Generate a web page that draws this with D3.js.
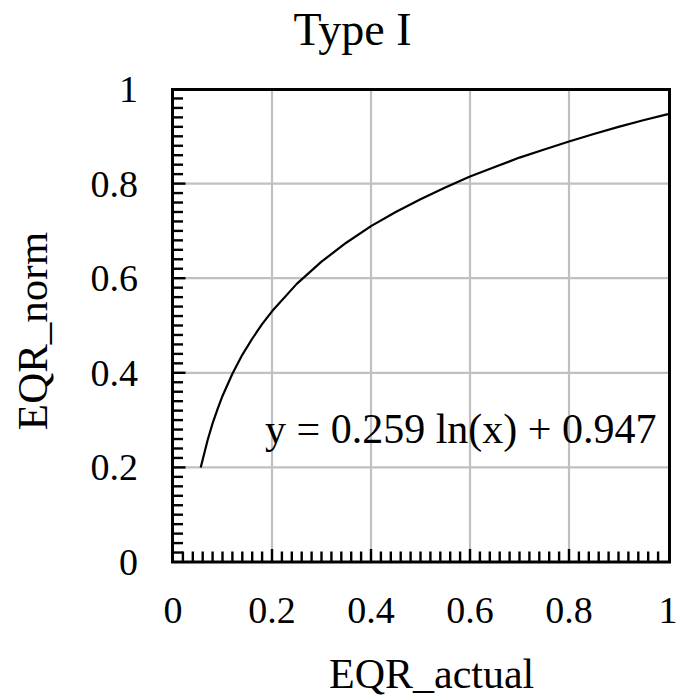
<!DOCTYPE html>
<html>
<head>
<meta charset="utf-8">
<script src="https://cdn.jsdelivr.net/npm/d3@7"></script>
<style>
  html, body { margin: 0; padding: 0; background: #fff; }
  svg { display: block; }
  text { font-family: "Liberation Serif", "Times New Roman", serif; fill: #000; }
</style>
</head>
<body>
<svg id="chart" width="678" height="700"></svg>
<script>
// ---- data ----
const curveX = [0.056, 0.07, 0.08, 0.09, 0.10, 0.12, 0.14, 0.16, 0.18, 0.20, 0.25, 0.30, 0.35, 0.40, 0.45, 0.50, 0.55, 0.60, 0.65, 0.70, 0.75, 0.80, 0.85, 0.90, 0.95, 1.00];
const curveY = [0.200, 0.258, 0.293, 0.323, 0.351, 0.398, 0.438, 0.472, 0.503, 0.530, 0.588, 0.635, 0.675, 0.710, 0.740, 0.767, 0.792, 0.815, 0.835, 0.855, 0.872, 0.889, 0.905, 0.920, 0.934, 0.947];
const xTickValues = [0, 0.2, 0.4, 0.6, 0.8, 1];
const xTickLabels = ["0", "0.2", "0.4", "0.6", "0.8", "1"];
const yTickValues = [0, 0.2, 0.4, 0.6, 0.8, 1];
const yTickLabels = ["0", "0.2", "0.4", "0.6", "0.8", "1"];
const titleText = "Type I";
const xTitle = "EQR_actual";
const yTitle = "EQR_norm";
const equationText = "y = 0.259 ln(x) + 0.947";

// ---- layout ----
const svg = d3.select("#chart");
const x = d3.scaleLinear().domain([0, 1]).range([173, 668]);
const y = d3.scaleLinear().domain([0, 1]).range([562, 89]);
const frame = { left: 172.5, right: 669.5, top: 89.5, bottom: 562 };

// gridlines
svg.append("g").selectAll("line").data(xTickValues.filter(v => v > 0 && v < 1)).join("line")
  .attr("x1", d => x(d)).attr("x2", d => x(d))
  .attr("y1", frame.top).attr("y2", frame.bottom)
  .attr("stroke", "#c0c0c0").attr("stroke-width", 2.2);
svg.append("g").selectAll("line").data(yTickValues.filter(v => v > 0 && v < 1)).join("line")
  .attr("y1", d => y(d)).attr("y2", d => y(d))
  .attr("x1", frame.left).attr("x2", frame.right)
  .attr("stroke", "#c0c0c0").attr("stroke-width", 2.2);

// minor ticks (inward)
const minor = d3.range(0, 1.0001, 0.02);
const isMajor = v => Math.abs(v * 5 - Math.round(v * 5)) < 1e-6;
svg.append("g").selectAll("line").data(minor.filter(v => v > 0.001 && v < 0.999)).join("line")
  .attr("x1", d => x(d)).attr("x2", d => x(d))
  .attr("y1", frame.bottom).attr("y2", d => frame.bottom - (isMajor(d) ? 13 : 10.5))
  .attr("stroke", "#000").attr("stroke-width", 2.4);
svg.append("g").selectAll("line").data(minor.filter(v => v > 0.001 && v < 0.999)).join("line")
  .attr("y1", d => y(d)).attr("y2", d => y(d))
  .attr("x1", frame.left).attr("x2", d => frame.left + (isMajor(d) ? 13 : 10.5))
  .attr("stroke", "#000").attr("stroke-width", 2.4);

// curve
const pts = curveX.map((v, i) => [v, curveY[i]]);
svg.append("path")
  .datum(pts)
  .attr("fill", "none")
  .attr("stroke", "#000")
  .attr("stroke-width", 2.2)
  .attr("stroke-linejoin", "round")
  .attr("d", d3.line().x(d => x(d[0])).y(d => y(d[1])));

// frame
svg.append("rect")
  .attr("x", frame.left).attr("y", frame.top)
  .attr("width", frame.right - frame.left).attr("height", frame.bottom - frame.top)
  .attr("fill", "none").attr("stroke", "#000").attr("stroke-width", 3);

// tick labels
svg.append("g").selectAll("text").data(xTickValues).join("text")
  .attr("x", d => x(d)).attr("y", 623)
  .attr("text-anchor", "middle")
  .attr("font-size", 38)
  .text((d, i) => xTickLabels[i]);
svg.append("g").selectAll("text").data(yTickValues).join("text")
  .attr("x", 138).attr("y", d => y(d) + 13)
  .attr("text-anchor", "end")
  .attr("font-size", 38)
  .text((d, i) => yTickLabels[i]);

// equation
svg.append("text")
  .attr("x", 265).attr("y", 443)
  .attr("font-size", 42)
  .text(equationText);

// title
svg.append("text")
  .attr("x", 352.5).attr("y", 45)
  .attr("text-anchor", "middle")
  .attr("font-size", 46)
  .text(titleText);

// axis titles
svg.append("text")
  .attr("x", 329).attr("y", 688)
  .attr("font-size", 42)
  .text(xTitle);
svg.append("text")
  .attr("transform", `translate(47, 331) rotate(-90)`)
  .attr("text-anchor", "middle")
  .attr("font-size", 43)
  .text(yTitle);
</script>
</body>
</html>
